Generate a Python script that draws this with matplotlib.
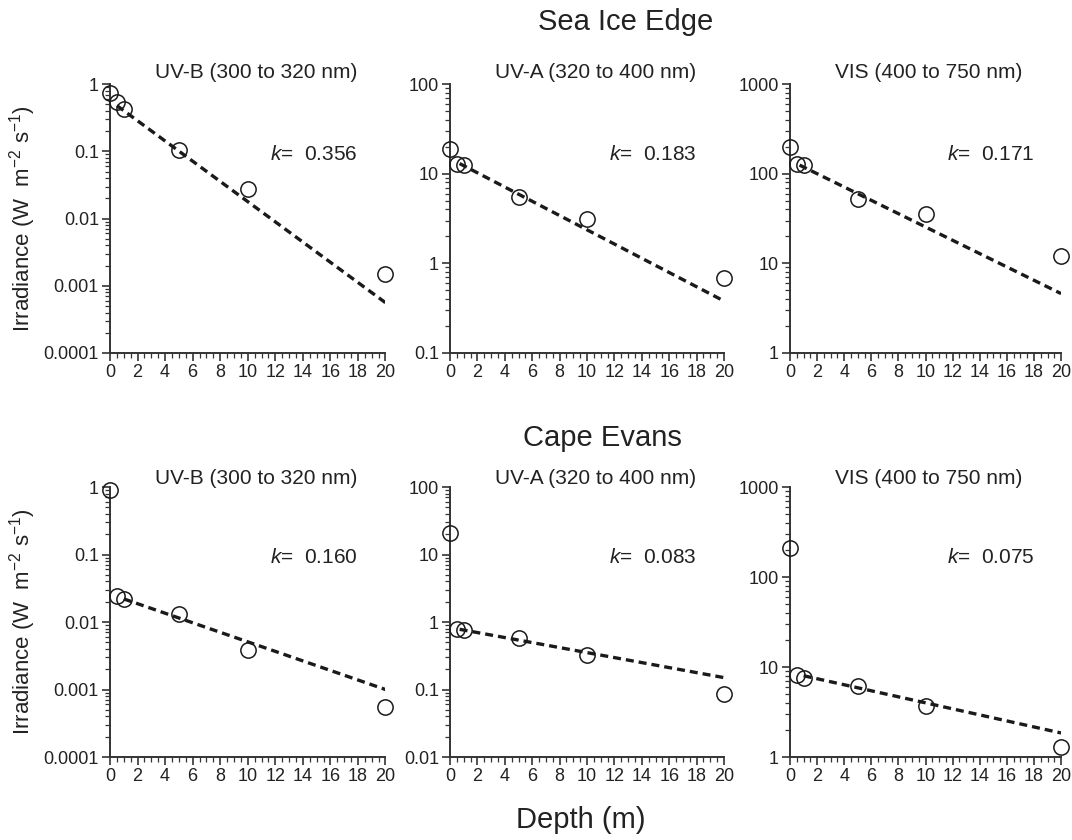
import matplotlib
matplotlib.use("Agg")
import matplotlib.pyplot as plt
from matplotlib.ticker import MultipleLocator, LogLocator, FuncFormatter, NullFormatter

plt.rcParams['font.family'] = ['Liberation Sans', 'DejaVu Sans']
plt.rcParams['mathtext.fontset'] = 'custom'
plt.rcParams['mathtext.rm'] = 'Liberation Sans'
plt.rcParams['mathtext.it'] = 'Liberation Sans:italic'
plt.rcParams['axes.unicode_minus'] = False

# profundidades amostradas (m)
depth = [0, 0.5, 1, 5, 10, 20]

# Sea Ice Edge
edge_uvb = [0.75, 0.55, 0.42, 0.105, 0.028, 0.0015]
edge_uva = [19, 13, 12.5, 5.5, 3.1, 0.68]
edge_vis = [200, 130, 125, 52, 36, 12]

# Cape Evans
cape_uvb = [0.9, 0.024, 0.022, 0.013, 0.0039, 0.00055]
cape_uva = [21, 0.78, 0.75, 0.58, 0.32, 0.087]
cape_vis = [210, 8.2, 7.5, 6.2, 3.7, 1.3]

# linhas de ajuste (x inicial, x final) e (y inicial, y final)
fit_x = {
    'edge_uvb': [0.5, 20], 'edge_uva': [0.7, 20], 'edge_vis': [0.7, 20],
    'cape_uvb': [1.0, 20], 'cape_uva': [0.7, 20], 'cape_vis': [1.0, 20],
}
fit_y = {
    'edge_uvb': [0.48, 0.00056], 'edge_uva': [13, 0.38], 'edge_vis': [125, 4.6],
    'cape_uvb': [0.022, 0.001], 'cape_uva': [0.78, 0.15], 'cape_vis': [8.0, 1.85],
}

k_values = {
    'edge_uvb': '0.356', 'edge_uva': '0.183', 'edge_vis': '0.171',
    'cape_uvb': '0.160', 'cape_uva': '0.083', 'cape_vis': '0.075',
}

band_titles = ['UV-B (300 to 320 nm)', 'UV-A (320 to 400 nm)', 'VIS (400 to 750 nm)']
ylims = [(0.0001, 1), (0.1, 100), (1, 1000)]
ylims_cape = [(0.0001, 1), (0.01, 100), (1, 1000)]

linhas = [
    [('edge_uvb', edge_uvb), ('edge_uva', edge_uva), ('edge_vis', edge_vis)],
    [('cape_uvb', cape_uvb), ('cape_uva', cape_uva), ('cape_vis', cape_vis)],
]

fig = plt.figure(figsize=(10.72, 8.4), dpi=100)

lefts = [0.1026, 0.4198, 0.737]
widths = [0.257, 0.2556, 0.2528]
bottoms = [0.5798, 0.0988]
heights = [0.320, 0.3214]
title_y = [1.042, 1.033]

for r in range(2):
    for c in range(3):
        ax = fig.add_axes([lefts[c], bottoms[r], widths[c], heights[r]])
        nome, vals = linhas[r][c]
        ax.set_yscale('log')
        ax.plot(fit_x[nome], fit_y[nome], color='#1a1a1a', lw=2.4,
                dashes=(2.4, 1.5), solid_capstyle='butt', zorder=2)
        ax.plot(depth, vals, 'o', ms=11, mfc='none', mec='#1a1a1a', mew=1.1,
                clip_on=False, zorder=3)
        ax.set_xlim(0, 20)
        ax.set_ylim(*(ylims if r == 0 else ylims_cape)[c])
        ax.spines['top'].set_visible(False)
        ax.spines['right'].set_visible(False)
        for s in ['left', 'bottom']:
            ax.spines[s].set_linewidth(1.4)
            ax.spines[s].set_color('#333333')
        ax.xaxis.set_major_locator(MultipleLocator(2))
        ax.xaxis.set_minor_locator(MultipleLocator(0.5))
        ax.yaxis.set_major_locator(LogLocator(base=10, numticks=10))
        ax.yaxis.set_minor_locator(LogLocator(base=10, subs=range(2, 10), numticks=10))
        ax.yaxis.set_major_formatter(FuncFormatter(lambda v, p: '{:g}'.format(v)))
        ax.yaxis.set_minor_formatter(NullFormatter())
        ax.tick_params(which='major', length=6, width=1.2, labelsize=13,
                       color='#333333', labelcolor='#222222', pad=2)
        ax.tick_params(which='minor', length=3.5, width=0.9, color='#333333')
        ax.text(0.165, title_y[r], band_titles[c], transform=ax.transAxes,
                fontsize=15, ha='left', va='center', color='#222222')
        ax.text(0.58, 0.74, r'$\mathit{k}$' + '=  ' + k_values[nome], transform=ax.transAxes,
                fontsize=15, ha='left', va='center', color='#222222')
        if c == 0:
            ax.set_ylabel(r'Irradiance (W  m$^{-2}$ s$^{-1}$)', fontsize=16,
                          color='#222222', labelpad=4)

fig.text(0.584, 0.974, 'Sea Ice Edge', fontsize=21, ha='center', va='center', color='#222222')
fig.text(0.562, 0.479, 'Cape Evans', fontsize=21, ha='center', va='center', color='#222222')
fig.text(0.542, 0.024, 'Depth (m)', fontsize=21, ha='center', va='center', color='#222222')

fig.savefig('out.png', dpi=100)
